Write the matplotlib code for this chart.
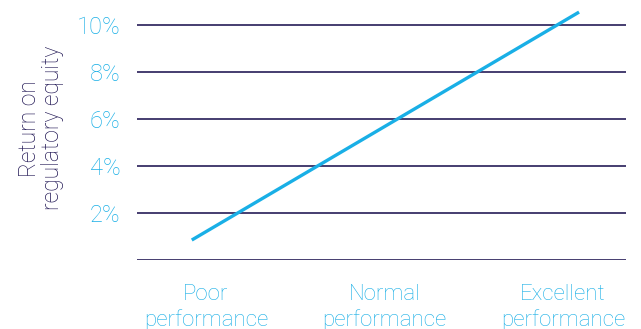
import matplotlib.pyplot as plt

# Datos
categorias = ["Poor\nperformance", "Normal\nperformance", "Excellent\nperformance"]
pos_categorias = [0, 1, 2]
ticks_y = [0, 2, 4, 6, 8, 10]
etiquetas_y = ["", "2%", "4%", "6%", "8%", "10%"]
linea_x = [-0.08, 2.09]
linea_y = [0.85, 10.55]

azul = "#19afe6"
marino = "#261c57"

plt.rcParams["font.family"] = ["Roboto", "DejaVu Sans"]

fig = plt.figure(figsize=(6.41, 3.29), dpi=100)
ax = fig.add_axes([0.2137, 0.2097, 0.7629, 0.7857])

for y in ticks_y:
    ax.axhline(y, color=marino, lw=1.2, zorder=1)

ax.plot(linea_x, linea_y, color=azul, lw=2.4, solid_capstyle="butt", zorder=2)

ax.set_xlim(-0.387, 2.353)
ax.set_ylim(0, 11)
ax.set_yticks(ticks_y)
ax.set_yticklabels(etiquetas_y, fontsize=17, color=azul, fontweight="light")
ax.set_xticks(pos_categorias)
ax.set_xticklabels(categorias, fontsize=16, color=azul, fontweight="light",
                   linespacing=1.3)
ax.tick_params(axis="y", length=0, pad=12)
ax.tick_params(axis="x", length=0, pad=17)
for s in ax.spines.values():
    s.set_visible(False)

fig.text(0.064, 0.61, "Return on\nregulatory equity", rotation=90, fontsize=16.5,
         color="#221855", fontweight="light", ha="center", va="center",
         linespacing=0.95)

fig.savefig("out.png", dpi=100)
